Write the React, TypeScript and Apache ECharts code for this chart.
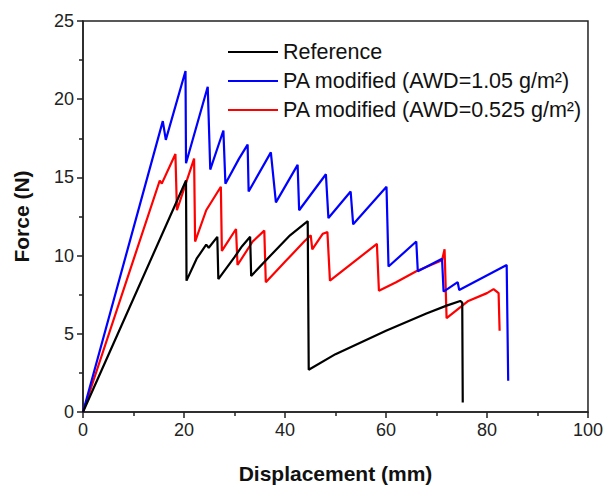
import React, { useEffect, useRef } from "react";
import * as echarts from "echarts";

const seriesNames = [
  "Reference",
  "PA modified (AWD=1.05 g/m²)",
  "PA modified (AWD=0.525 g/m²)",
];

const xTicks = [0, 20, 40, 60, 80, 100];
const yTicks = [0, 5, 10, 15, 20, 25];

const referenceData: number[][] = [
  [0, 0], [20.4, 14.8], [20.5, 8.4], [22.5, 9.8], [24.4, 10.7], [24.9, 10.5],
  [26.6, 11.2], [26.8, 8.5], [30, 9.9], [31.5, 10.6], [33.1, 11.2], [33.3, 8.7],
  [38, 10.3], [41, 11.3], [44.5, 12.2], [44.7, 2.7], [50, 3.7], [60, 5.2],
  [68, 6.3], [72, 6.8], [74.7, 7.1], [75.1, 7.0], [75.2, 0.6],
];

const awd105Data: number[][] = [
  [0, 0], [15.8, 18.6], [16.4, 17.4], [20.3, 21.8], [20.4, 15.9], [24.7, 20.8],
  [25.2, 15.5], [27.8, 18.0], [28.2, 14.6], [30.9, 16.2], [32.6, 17.1],
  [32.8, 14.1], [37.2, 16.6], [38.2, 13.4], [42.5, 15.8], [42.8, 12.9],
  [48.1, 15.2], [48.6, 12.4], [53.0, 14.1], [53.5, 12.0], [60.1, 14.4],
  [60.5, 9.3], [66.0, 10.9], [66.3, 9.0], [71.1, 9.8], [71.4, 7.7], [74.2, 8.3],
  [74.5, 7.8], [83.9, 9.4], [84.2, 2.0],
];

const awd0525Data: number[][] = [
  [0, 0], [15.2, 14.8], [15.6, 14.6], [18.3, 16.5], [18.6, 12.9], [22.0, 16.2],
  [22.2, 10.9], [24.4, 12.9], [27.3, 14.4], [27.5, 10.3], [30.3, 11.7],
  [30.6, 9.4], [33.6, 10.9], [35.9, 11.6], [36.2, 8.3], [40, 9.6], [43.8, 10.9],
  [45.1, 11.3], [45.4, 10.4], [47.5, 11.4], [48.4, 11.5], [48.9, 8.4],
  [58.2, 10.75], [58.6, 7.75], [62, 8.3], [66, 9.0], [71.1, 9.7], [71.6, 10.4],
  [72.0, 6.0], [76.3, 7.1], [80, 7.6], [81.3, 7.86], [82.3, 7.6], [82.5, 5.2],
];

const colors = ["#000000", "#0000ff", "#ff0000"];
const FONT = "Liberation Sans, Arial, sans-serif";

export default function App() {
  const ref = useRef<HTMLDivElement>(null);
  useEffect(() => {
    if (!ref.current) return;
    const chart = echarts.init(ref.current, undefined, { renderer: "svg" });
    const datasets = [referenceData, awd105Data, awd0525Data];
    const axisCommon = {
      axisLine: { lineStyle: { color: "#222", width: 1.5 } },
      axisTick: { show: true, length: 6, lineStyle: { color: "#222", width: 1.5 } },
      minorTick: { show: true, splitNumber: 2, length: 4, lineStyle: { color: "#222", width: 1.5 } },
      axisLabel: { fontSize: 18, color: "#222", margin: 9, fontFamily: FONT },
      splitLine: { show: false },
      nameLocation: "middle",
      nameTextStyle: { fontSize: 21, fontWeight: "bold", color: "#111", fontFamily: FONT },
    };
    chart.setOption({
      animation: false,
      textStyle: { fontFamily: FONT },
      grid: {
        left: 83,
        right: 16,
        top: 21,
        bottom: 64,
        show: true,
        borderColor: "#222",
        borderWidth: 1.5,
      },
      legend: {
        data: seriesNames,
        orient: "vertical",
        left: 228,
        top: 41,
        padding: 0,
        icon: "rect",
        itemWidth: 50,
        itemHeight: 2,
        itemGap: 7,
        textStyle: { fontSize: 21.5, lineHeight: 21, color: "#111", fontFamily: FONT },
      },
      xAxis: {
        type: "value",
        min: xTicks[0],
        max: xTicks[xTicks.length - 1],
        interval: 20,
        name: "Displacement (mm)",
        nameGap: 51,
        ...axisCommon,
      },
      yAxis: {
        type: "value",
        min: yTicks[0],
        max: yTicks[yTicks.length - 1],
        interval: 5,
        name: "Force (N)",
        nameGap: 51,
        ...axisCommon,
      },
      series: seriesNames.map((name, i) => ({
        name,
        type: "line",
        data: datasets[i],
        symbol: "none",
        showSymbol: false,
        color: colors[i],
        lineStyle: { color: colors[i], width: 2.2 },
        z: 3 - i,
      })),
    });
    return () => chart.dispose();
  }, []);
  return (
    <div
      ref={ref}
      style={{ position: "absolute", left: 0, top: 0, width: 606, height: 489 }}
    />
  );
}
